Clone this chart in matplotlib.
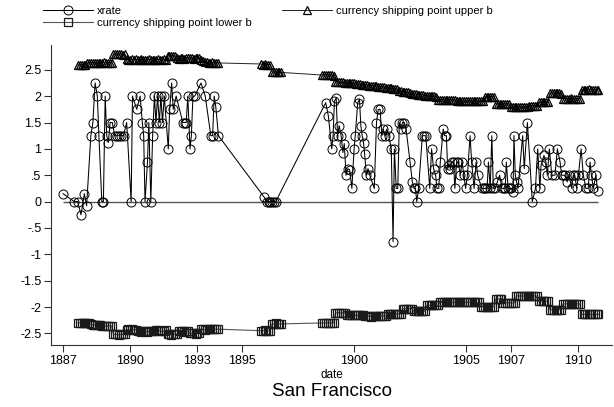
import numpy as np
import matplotlib
matplotlib.use("Agg")
import matplotlib.pyplot as plt

plt.rcParams['font.family'] = ['Liberation Sans', 'DejaVu Sans']

# exchange rate observations: date (years) and value
xr_date = [1887.0, 1887.5, 1887.65, 1887.8, 1887.95, 1888.05, 1888.24, 1888.33, 1888.43, 1888.53,
           1888.6, 1888.73, 1888.8, 1888.88, 1888.95, 1889.02, 1889.1, 1889.2, 1889.3, 1889.4,
           1889.5, 1889.6, 1889.7, 1889.84, 1890.04, 1890.1, 1890.29, 1890.44, 1890.54, 1890.6,
           1890.66, 1890.77, 1890.83, 1890.92, 1891.0, 1891.08, 1891.15, 1891.22, 1891.3, 1891.37,
           1891.44, 1891.52, 1891.7, 1891.76, 1891.85, 1891.92, 1892.05, 1892.35, 1892.43, 1892.5,
           1892.57, 1892.67, 1892.73, 1892.8, 1892.88, 1893.16, 1893.35, 1893.6, 1893.68, 1893.75,
           1893.82, 1893.94,
           1895.99, 1896.1, 1896.18, 1896.26, 1896.34, 1896.42, 1896.5,
           1898.73, 1898.85, 1899.0, 1899.06, 1899.12, 1899.2, 1899.26, 1899.33, 1899.42, 1899.5,
           1899.56, 1899.64, 1899.72, 1899.8, 1899.9, 1900.0, 1900.05, 1900.16, 1900.24, 1900.3,
           1900.36, 1900.42, 1900.47, 1900.55, 1900.62, 1900.7, 1900.9, 1901.0, 1901.08, 1901.16,
           1901.24, 1901.3, 1901.38, 1901.46, 1901.55, 1901.66, 1901.74, 1901.8, 1901.88, 1901.95,
           1902.02, 1902.1, 1902.16, 1902.24, 1902.32, 1902.5, 1902.6, 1902.68, 1902.74, 1902.8,
           1902.88, 1903.05, 1903.12, 1903.2, 1903.38, 1903.46, 1903.55, 1903.64, 1903.7, 1903.78,
           1903.85, 1903.98, 1904.04, 1904.12, 1904.18, 1904.25, 1904.3, 1904.36, 1904.44, 1904.5,
           1904.58, 1904.66, 1904.74, 1904.82, 1904.9, 1904.98, 1905.06, 1905.18, 1905.25, 1905.36,
           1905.45, 1905.52, 1905.7, 1905.78, 1905.86, 1905.94, 1906.0, 1906.08, 1906.15, 1906.22,
           1906.3, 1906.4, 1906.5, 1906.6, 1906.68, 1906.75, 1906.8, 1906.88, 1906.95, 1907.02,
           1907.1, 1907.14, 1907.2, 1907.26, 1907.32, 1907.53, 1907.6, 1907.74, 1907.96, 1908.1,
           1908.2, 1908.3, 1908.35, 1908.48, 1908.57, 1908.63, 1908.72, 1908.83, 1908.97, 1909.08,
           1909.2, 1909.27, 1909.35, 1909.42, 1909.52, 1909.6, 1909.72, 1909.79, 1909.86, 1909.94,
           1910.02, 1910.14, 1910.24, 1910.35, 1910.46, 1910.54, 1910.6, 1910.69, 1910.8, 1910.88]
xr_val = [0.15, 0, 0, -0.25, 0.15, -0.08, 1.25, 1.5, 2.25, 2.0,
          1.25, 0, 0, 2.0, 1.25, 1.12, 1.5, 1.5, 1.25, 1.25,
          1.25, 1.25, 1.25, 1.5, 0, 2.0, 1.75, 2.0, 1.5, 1.25,
          0, 0.75, 1.5, 0, 1.25, 2.0, 1.5, 2.0, 1.5, 2.0,
          1.5, 2.0, 1.0, 1.75, 2.25, 1.75, 2.0, 1.5, 1.5, 1.5,
          2.0, 1.0, 1.25, 2.0, 2.0, 2.25, 2.0, 1.25, 1.25, 2.0,
          1.8, 1.25,
          0.08, 0, 0, 0, 0, 0, 0,
          1.875, 1.625, 1.0, 1.25, 1.9, 1.97, 1.25, 1.44, 1.25, 0.93,
          1.1, 0.5, 0.625, 0.6, 0.25, 1.0, 1.25, 1.875, 1.94, 1.44,
          1.25, 1.12, 0.9, 0.5, 0.625, 0.5, 0.25, 1.5, 1.75, 1.75,
          1.25, 1.375, 1.25, 1.375, 1.25, 1.0, -0.76, 1.0, 0.25, 0.25,
          1.5, 1.375, 1.5, 1.5, 1.375, 0.75, 0.375, 0.25, 0.25, 0,
          0.25, 1.25, 1.25, 1.25, 0.25, 1.0, 0.625, 0.5, 0.25, 0.25,
          0.75, 1.375, 1.25, 1.25, 0.625, 0.69, 0.625, 0.75, 0.75, 0.25,
          0.75, 0.75, 0.5, 0.75, 0.5, 0.25, 0.5, 1.25, 0.75, 0.25,
          0.75, 0.5, 0.25, 0.25, 0.25, 0.25, 0.75, 0.25, 1.25, 0.25,
          0.25, 0.375, 0.5, 0.25, 0.25, 0.25, 0.75, 0.25, 0.25, 0.25,
          0.18, 1.25, 0.5, 0.375, 0.25, 1.25, 0.625, 1.5, 0, 0.25,
          1.0, 0.25, 0.69, 0.875, 0.75, 0.5, 1.0, 0.5, 0.5, 1.0,
          0.75, 0.5, 0.5, 0.5, 0.375, 0.5, 0.25, 0.5, 0.5, 0.25,
          0.5, 1.0, 0.5, 0.25, 0.25, 0.75, 0.5, 0.25, 0.5, 0.2]

# shipping point bands, monthly; each run = (start year, start month)
band_runs = [(1887, 9), (1895, 11), (1898, 8)]

up_1887 = [2.59, 2.59, 2.59, 2.59]
up_1888 = [2.59, 2.62, 2.63, 2.63, 2.63, 2.63, 2.62, 2.63, 2.63, 2.63, 2.64, 2.63]
up_1889 = [2.63, 2.63, 2.63, 2.79, 2.8, 2.8, 2.79, 2.8, 2.78, 2.79, 2.7, 2.69]
up_1890 = [2.69, 2.7, 2.69, 2.7, 2.69, 2.69, 2.7, 2.69, 2.68, 2.69, 2.7, 2.69]
up_1891 = [2.69, 2.68, 2.69, 2.7, 2.69, 2.69, 2.7, 2.69, 2.76, 2.77, 2.77, 2.76]
up_1892 = [2.76, 2.72, 2.71, 2.72, 2.72, 2.71, 2.72, 2.73, 2.72, 2.72, 2.71, 2.72]
up_1893 = [2.72, 2.72, 2.68, 2.66, 2.64, 2.64, 2.63, 2.63, 2.64, 2.63, 2.63, 2.63]
up_1895 = [2.61, 2.6, 2.61, 2.6, 2.6, 2.6, 2.46, 2.45, 2.45, 2.45, 2.46, 2.45]
up_1898 = [2.4, 2.4, 2.41, 2.4, 2.4]
up_1899 = [2.4, 2.39, 2.27, 2.27, 2.26, 2.26, 2.26, 2.25, 2.25, 2.25, 2.24, 2.24]
up_1900 = [2.24, 2.23, 2.23, 2.23, 2.22, 2.22, 2.21, 2.21, 2.2, 2.2, 2.2, 2.19]
up_1901 = [2.19, 2.18, 2.18, 2.17, 2.17, 2.16, 2.16, 2.15, 2.15, 2.14, 2.14, 2.13]
up_1902 = [2.1, 2.09, 2.08, 2.08, 2.07, 2.07, 2.06, 2.05, 2.05, 2.04, 2.03, 2.03]
up_1903 = [2.03, 2.02, 2.01, 2.0, 2.0, 2.0, 2.0, 2.0, 1.99, 1.93, 1.93, 1.93]
up_1904 = [1.93, 1.93, 1.92, 1.93, 1.93, 1.92, 1.93, 1.9, 1.9, 1.9, 1.9, 1.91]
up_1905 = [1.9, 1.9, 1.91, 1.9, 1.9, 1.9, 1.9, 1.91, 1.9, 1.9, 1.99, 1.99]
up_1906 = [1.99, 1.99, 1.99, 1.99, 1.85, 1.85, 1.86, 1.85, 1.85, 1.85, 1.85, 1.85]
up_1907 = [1.79, 1.79, 1.79, 1.79, 1.8, 1.79, 1.79, 1.79, 1.79, 1.79, 1.82, 1.82]
up_1908 = [1.82, 1.82, 1.82, 1.88, 1.88, 1.88, 1.88, 1.88, 1.88, 2.06, 2.06, 2.06]
up_1909 = [2.06, 2.06, 2.06, 2.05, 1.95, 1.95, 1.95, 1.95, 1.96, 1.95, 1.95, 1.95]
up_1910 = [1.95, 1.95, 2.12, 2.12, 2.12, 2.12, 2.13, 2.12, 2.12, 2.12, 2.12, 2.12]

lo_1887 = [-2.3, -2.3, -2.3, -2.3]
lo_1888 = [-2.3, -2.3, -2.3, -2.33, -2.34, -2.34, -2.34, -2.34, -2.34, -2.36, -2.36, -2.36]
lo_1889 = [-2.36, -2.36, -2.36, -2.52, -2.52, -2.52, -2.53, -2.52, -2.52, -2.52, -2.43, -2.42]
lo_1890 = [-2.43, -2.42, -2.43, -2.43, -2.46, -2.46, -2.47, -2.46, -2.46, -2.47, -2.46, -2.46]
lo_1891 = [-2.46, -2.45, -2.44, -2.44, -2.45, -2.46, -2.46, -2.44, -2.52, -2.52, -2.53, -2.52]
lo_1892 = [-2.52, -2.52, -2.46, -2.46, -2.46, -2.47, -2.46, -2.46, -2.5, -2.5, -2.5, -2.51]
lo_1893 = [-2.5, -2.5, -2.42, -2.42, -2.43, -2.42, -2.42, -2.42, -2.41, -2.42, -2.42, -2.42]
lo_1895 = [-2.45, -2.45, -2.44, -2.45, -2.45, -2.45, -2.32, -2.32, -2.31, -2.32, -2.32, -2.32]
lo_1898 = [-2.3, -2.3, -2.3, -2.3, -2.3]
lo_1899 = [-2.3, -2.3, -2.11, -2.11, -2.11, -2.11, -2.11, -2.11, -2.16, -2.16, -2.16, -2.16]
lo_1900 = [-2.16, -2.16, -2.16, -2.16, -2.16, -2.16, -2.17, -2.17, -2.17, -2.18, -2.17, -2.17]
lo_1901 = [-2.17, -2.17, -2.17, -2.17, -2.17, -2.17, -2.13, -2.13, -2.13, -2.13, -2.13, -2.13]
lo_1902 = [-2.13, -2.13, -2.03, -2.03, -2.03, -2.03, -2.03, -2.03, -2.08, -2.08, -2.08, -2.08]
lo_1903 = [-2.08, -2.08, -2.08, -1.97, -1.97, -1.97, -1.97, -1.97, -1.97, -1.97, -1.91, -1.91]
lo_1904 = [-1.91, -1.91, -1.91, -1.91, -1.91, -1.91, -1.91, -1.91, -1.91, -1.91, -1.91, -1.91]
lo_1905 = [-1.91, -1.91, -1.91, -1.91, -1.91, -1.91, -1.91, -1.91, -1.99, -1.99, -1.99, -1.99]
lo_1906 = [-1.99, -1.99, -1.99, -1.99, -1.84, -1.84, -1.84, -1.84, -1.92, -1.92, -1.92, -1.92]
lo_1907 = [-1.92, -1.92, -1.92, -1.79, -1.79, -1.79, -1.79, -1.79, -1.79, -1.79, -1.79, -1.79]
lo_1908 = [-1.79, -1.79, -1.79, -1.89, -1.89, -1.89, -1.89, -1.89, -1.89, -2.05, -2.05, -2.05]
lo_1909 = [-2.05, -2.05, -2.05, -2.05, -1.94, -1.94, -1.94, -1.94, -1.94, -1.94, -1.94, -1.94]
lo_1910 = [-1.94, -1.94, -2.14, -2.14, -2.14, -2.14, -2.14, -2.14, -2.14, -2.14, -2.14, -2.14]

upper_runs = [up_1887 + up_1888 + up_1889 + up_1890 + up_1891 + up_1892 + up_1893,
              up_1895,
              up_1898 + up_1899 + up_1900 + up_1901 + up_1902 + up_1903 + up_1904 + up_1905
              + up_1906 + up_1907 + up_1908 + up_1909 + up_1910]
lower_runs = [lo_1887 + lo_1888 + lo_1889 + lo_1890 + lo_1891 + lo_1892 + lo_1893,
              lo_1895,
              lo_1898 + lo_1899 + lo_1900 + lo_1901 + lo_1902 + lo_1903 + lo_1904 + lo_1905
              + lo_1906 + lo_1907 + lo_1908 + lo_1909 + lo_1910]

x_ticks = [1887, 1890, 1893, 1895, 1900, 1905, 1907, 1910]
y_ticks = [-2.5, -2, -1.5, -1, -0.5, 0, 0.5, 1, 1.5, 2, 2.5]


def month_dates(year, month, n):
    return [year + (month - 1 + i) / 12 for i in range(n)]


band_date = []
for (yr, mo), vals in zip(band_runs, upper_runs):
    band_date += month_dates(yr, mo, len(vals))
upper = sum(upper_runs, [])
lower = sum(lower_runs, [])


def stata_num(v):
    s = ('%g' % v)
    return s.replace('0.', '.') if abs(v) < 1 and v != 0 else s


fig = plt.figure(figsize=(6.14, 4.07), dpi=100)
ax = fig.add_axes([51 / 614, 1 - 345 / 407, 561 / 614, 300 / 407])

ax.hlines(0, xr_date[0], xr_date[-1], color='#555555', lw=1.0, zorder=1)
l_xr, = ax.plot(xr_date, xr_val, color='black', lw=0.75, marker='o', ms=6.5,
                mfc='none', mec='black', mew=0.7, label='xrate')
l_up, = ax.plot(band_date, upper, color='#222222', lw=0.7, marker='^', ms=5.5,
                mfc='none', mec='black', mew=0.9, label='currency shipping point upper b')
l_lo, = ax.plot(band_date, lower, color='#555555', lw=0.8, marker='s', ms=5.5,
                mfc='none', mec='#1a1a1a', mew=0.9, label='currency shipping point lower b')

ax.set_xlim(1886.46, 1911.52)
ax.set_ylim(-2.72, 2.97)
ax.set_xticks(x_ticks)
ax.set_xticklabels([str(t) for t in x_ticks])
ax.set_yticks(y_ticks)
ax.set_yticklabels([stata_num(t) for t in y_ticks])
ax.tick_params(direction='out', length=5, width=0.8, labelsize=9, pad=2, color='#333333')
for side in ['top', 'right']:
    ax.spines[side].set_visible(False)
for side in ['left', 'bottom']:
    ax.spines[side].set_color('#333333')
    ax.spines[side].set_linewidth(0.8)

fig.text(331.5 / 614, 1 - 375 / 407, 'date', ha='center', va='center', fontsize=8.5)
fig.text(331.5 / 614, 1 - 391 / 407, 'San Francisco', ha='center', va='center', fontsize=13.5)

fig.legend(handles=[l_xr, l_lo, l_up], loc='upper left', bbox_to_anchor=(43 / 614, 1 - 6 / 407),
           ncol=2, frameon=False, fontsize=8, handlelength=4.5, handletextpad=0.35,
           columnspacing=2.7, labelspacing=0.15, borderpad=0, borderaxespad=0)

fig.savefig('out.png', dpi=100)
